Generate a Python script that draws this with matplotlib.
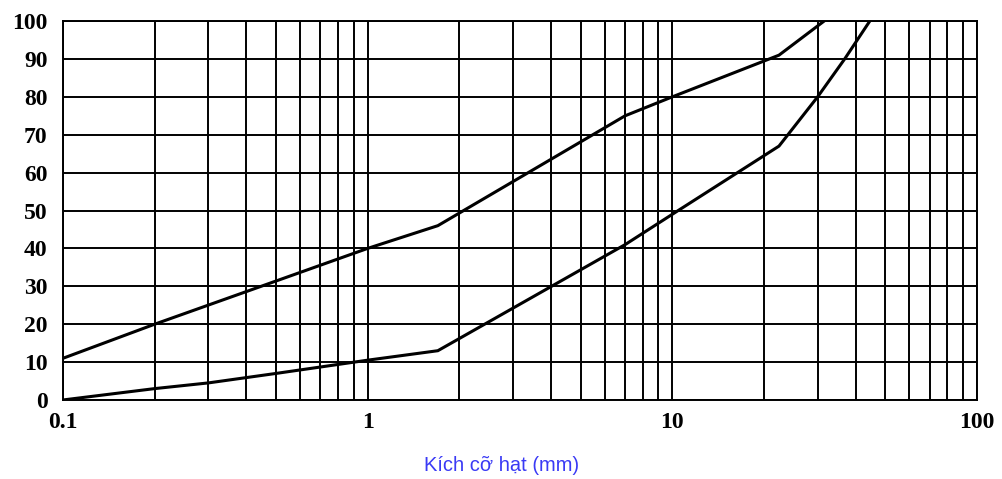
import numpy as np
import matplotlib.pyplot as plt
from matplotlib.ticker import FixedLocator, LogLocator, NullFormatter

# grain size (mm) vs percent passing, upper and lower limit curves
upper_size = [0.1, 0.2, 1.0, 1.7, 7.0, 10.0, 22.4, 31.5]
upper_pass = [11, 20, 40, 46, 75, 80, 91, 100]

lower_size = [0.1, 0.2, 0.3, 0.5, 1.0, 1.7, 7.0, 10.0, 22.4, 30.0, 36.8, 44.5]
lower_pass = [0, 3, 4.5, 7, 10.5, 13, 41, 49, 67, 80, 90, 100]

x_ticks = [0.1, 1, 10, 100]
x_labels = ["0.1", "1", "10", "100"]
y_ticks = list(range(0, 101, 10))

fig = plt.figure(figsize=(10.03, 4.79), dpi=100)
ax = fig.add_axes([0.0628, 0.165, 0.9112, 0.791])

ax.plot(upper_size, upper_pass, color="black", lw=2.2, solid_joinstyle="miter")
ax.plot(lower_size, lower_pass, color="black", lw=2.2, solid_joinstyle="miter")

ax.set_xscale("log")
ax.set_xlim(0.1, 100)
ax.set_ylim(0, 100)

ax.xaxis.set_major_locator(FixedLocator(x_ticks))
ax.xaxis.set_minor_locator(LogLocator(base=10, subs=np.arange(2, 10)))
ax.xaxis.set_minor_formatter(NullFormatter())
ax.set_xticks(x_ticks, x_labels)
ax.set_yticks(y_ticks)

ax.grid(which="both", axis="x", color="black", lw=1.4)
ax.grid(which="major", axis="y", color="black", lw=1.4)
for s in ax.spines.values():
    s.set_linewidth(1.4)

ax.tick_params(which="both", length=0)
ax.tick_params(axis="x", pad=8.5)
ax.tick_params(axis="y", pad=11)
for lab in ax.get_xticklabels() + ax.get_yticklabels():
    lab.set_fontfamily("Liberation Serif")
    lab.set_fontweight("bold")
    lab.set_fontsize(17)

fig.text(0.5, 0.029, "Kích cỡ hạt (mm)", ha="center", va="center",
         color="#3a3af5", fontsize=14.5, fontfamily="Liberation Sans")

fig.savefig("out.png", dpi=100)
